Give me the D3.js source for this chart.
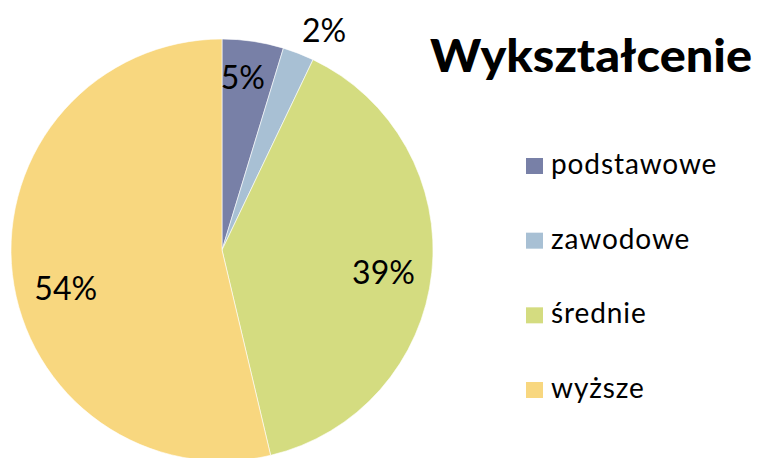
<!DOCTYPE html>
<html>
<head>
<meta charset="utf-8">
<style>
  body { margin:0; background:#fff; }
  text { font-family: Lato, "Open Sans", sans-serif; fill:#000; }
</style>
</head>
<body>
<div id="chart"></div>
<script src="https://d3js.org/d3.v7.min.js"></script>
<script>
// data
const categories = ["podstawowe", "zawodowe", "średnie", "wyższe"];
const values = [4.7, 2.4, 39.2, 53.7];
const labels = ["5%", "2%", "39%", "54%"];
const colors = ["#7880a7", "#a8c0d4", "#d4dc80", "#f8d77f"];

const width = 769, height = 458;
const cx = 222, cy = 250, r = 211;

const svg = d3.select("#chart").append("svg")
  .attr("width", width)
  .attr("height", height);

const pie = d3.pie().sort(null).value(d => d.value);
const data = categories.map((c, i) => ({ name: c, value: values[i], label: labels[i], color: colors[i] }));
const arcs = pie(data);

const arc = d3.arc().innerRadius(0).outerRadius(r);
const g = svg.append("g").attr("transform", "translate(" + cx + "," + cy + ")");

g.selectAll("path.slice")
  .data(arcs)
  .enter().append("path")
    .attr("class", "slice")
    .attr("d", arc)
    .attr("fill", d => d.data.color)
    .attr("stroke", "#fff")
    .attr("stroke-width", 0.6);

// label placement: radius and a small angular nudge (degrees) per slice
const labelR = [174, 242, 163, 161];
const nudge = [-1.6, 3.7, 1.7, -7.3];
g.selectAll("text.lbl")
  .data(arcs)
  .enter().append("text")
    .attr("class", "lbl")
    .attr("transform", (d, i) => {
      const a = (d.startAngle + d.endAngle) / 2 + nudge[i] * Math.PI / 180;
      return "translate(" + (Math.sin(a) * labelR[i]) + "," + (-Math.cos(a) * labelR[i]) + ")";
    })
    .attr("text-anchor", "middle")
    .attr("dy", "0.36em")
    .style("font-size", "32px")
    .text(d => d.data.label);

// title
svg.append("text")
  .attr("x", 430)
  .attr("y", 72)
  .style("font-size", "45px")
  .style("font-weight", "900")
  .attr("textLength", 322)
  .attr("lengthAdjust", "spacingAndGlyphs")
  .text("Wykształcenie");

// legend
const legY = d3.scalePoint().domain(categories).range([166, 390]);
const leg = svg.selectAll("g.leg")
  .data(data)
  .enter().append("g")
    .attr("class", "leg")
    .attr("transform", d => "translate(526," + legY(d.name) + ")");

leg.append("rect")
  .attr("x", 0).attr("y", -8)
  .attr("width", 17).attr("height", 16)
  .attr("fill", d => d.color);

leg.append("text")
  .attr("x", 25)
  .attr("y", 8)
  .style("font-size", "28px")
  .style("letter-spacing", "0.9px")
  .text(d => d.name);
</script>
</body>
</html>
